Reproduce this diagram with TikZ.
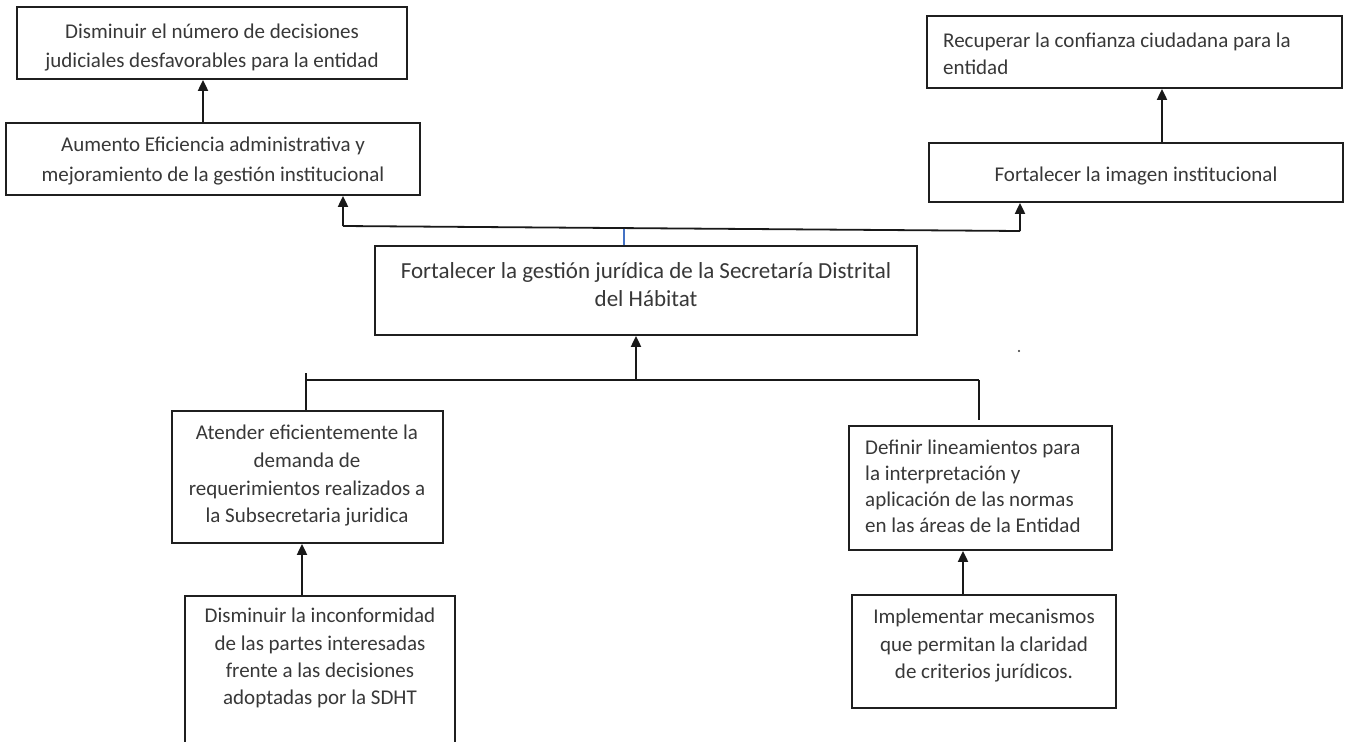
\documentclass[tikz,border=0pt]{standalone}
\usepackage{fontspec}
\setmainfont{Carlito}
\usetikzlibrary{arrows.meta}
\tikzset{
  box/.style={draw=black!88, line width=1.8pt, inner sep=0pt},
  txt/.style={inner sep=0pt, text=black!78},
  arr/.style={draw=black!90, line width=2pt, -{Triangle[width=10pt,length=11pt]}},
  ln/.style={draw=black!90, line width=1.8pt},
}
\newcommand\mybox[5]{\node[box, minimum width={(#4-#2)*1pt}, minimum height={(#5-#3)*1pt}] (#1) at ({(#2+#4)/2},{(#3+#5)/2}) {};}
\newcommand\fs[1]{\fontsize{21}{#1}\selectfont}
\begin{document}
\begin{tikzpicture}[x=1pt,y=-1pt]
\useasboundingbox[fill=white] (0,0) rectangle (1345,742);
\begin{scope}
\clip (0,0) rectangle (1345,742);
% boxes
\mybox{b1}{17}{7}{407}{79}
\mybox{b2}{6}{123}{420}{195}
\mybox{b3}{927}{16}{1342}{88}
\mybox{b4}{929}{143}{1343}{202}
\mybox{b5}{375}{246}{917}{335}
\mybox{b6}{172}{411}{443}{543}
\mybox{b7}{185}{596}{455}{760}
\mybox{b8}{849}{426}{1112}{550}
\mybox{b9}{852}{595}{1116}{708}
\end{scope}
% texts
\node[txt, anchor=north, align=center, font=\fs{29}] (t1) at (212,24) {Disminuir el número de decisiones\\judiciales desfavorables para la entidad};
\node[txt, anchor=north, align=center, font=\fs{30}] (t2) at (213,137) {Aumento Eficiencia administrativa y\\mejoramiento de la gestión institucional};
\node[txt, anchor=north west, align=left, font=\fs{27}] (t3) at (943,33) {Recuperar la confianza ciudadana para la\\entidad};
\node[txt, anchor=north, align=center, font=\fs{28}] (t4) at (1136,167) {Fortalecer la imagen institucional};
\node[txt, anchor=north, align=center, font=\fontsize{23}{28}\selectfont] (t5) at (646,262) {Fortalecer la gestión jurídica de la Secretaría Distrital\\del Hábitat};
\node[txt, anchor=north, align=center, font=\fs{27.7}] (t6) at (307,425) {Atender eficientemente la\\demanda de\\requerimientos realizados a\\la Subsecretaria juridica};
\node[txt, anchor=north, align=center, font=\fs{27.3}] (t7) at (320,608) {Disminuir la inconformidad\\de las partes interesadas\\frente a las decisiones\\adoptadas por la SDHT};
\node[txt, anchor=north west, align=left, font=\fs{26}] (t8) at (865,440) {Definir lineamientos para\\la interpretación y\\aplicación de las normas\\en las áreas de la Entidad};
\node[txt, anchor=north, align=center, font=\fs{27.5}] (t9) at (984,609) {Implementar mecanismos\\que permitan la claridad\\de criterios jurídicos.};
% top connectors
\coordinate (tl) at (343,226);
\coordinate (tr) at (1020,231);
\coordinate (tm) at (624,228.5);
\draw[ln] (tl) -- (tr);
\draw[draw={rgb,255:red,68;green,114;blue,196}, line width=1.2pt] (tm) -- (tm |- b5.north);
\draw[arr] (tl) -- (tl |- b2.south);
\draw[arr] (tr) -- (tr |- b4.south);
\coordinate (a12) at (203,0);
\draw[arr] (a12 |- b2.north) -- (a12 |- b1.south);
\coordinate (a34) at (1162,0);
\draw[arr] (a34 |- b4.north) -- (a34 |- b3.south);
% bottom connectors
\coordinate (bl) at (306,380);
\coordinate (br) at (979,380);
\coordinate (bm) at (636,380);
\coordinate (btick) at (306,373);
\coordinate (bend) at (979,420);
\draw[ln] (bl) -- (br);
\draw[ln] (btick) -- (btick |- b6.north);
\draw[ln] (br) -- (bend);
\draw[arr] (bm) -- (bm |- b5.south);
\coordinate (a67) at (302,0);
\draw[arr] (a67 |- b7.north) -- (a67 |- b6.south);
\coordinate (a89) at (963,0);
\draw[arr] (a89 |- b9.north) -- (a89 |- b8.south);
% stray mark
\fill[black!80] (1019,351) circle (1.2pt);
\end{tikzpicture}
\end{document}
